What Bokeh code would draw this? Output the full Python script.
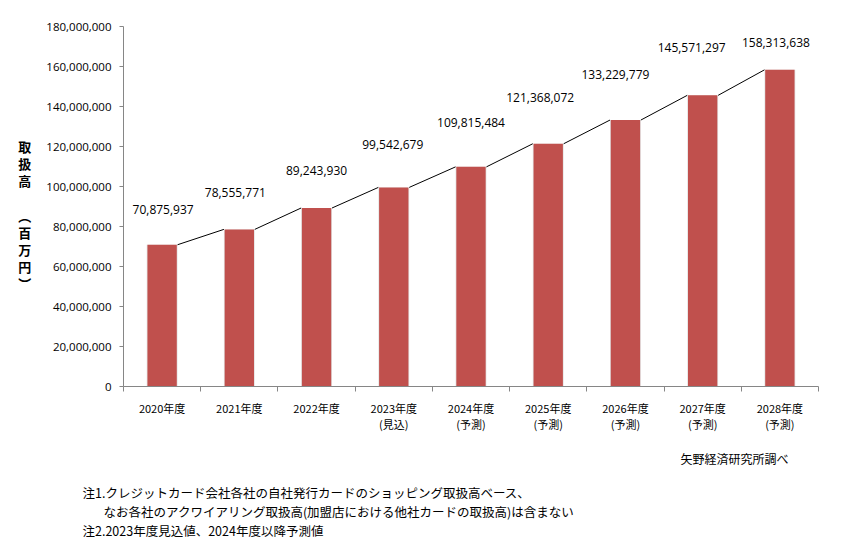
from bokeh.plotting import figure
from bokeh.models import (ColumnDataSource, FixedTicker, NumeralTickFormatter,
                          LabelSet, Range1d, Title)
from bokeh.core.properties import value
from bokeh.embed import file_html
from bokeh.resources import INLINE

# ---- data ----
years = ["2020年度", "2021年度", "2022年度", "2023年度", "2024年度",
         "2025年度", "2026年度", "2027年度", "2028年度"]
sub_labels = ["", "", "", "(見込)", "(予測)", "(予測)", "(予測)", "(予測)", "(予測)"]
values = [70875937, 78555771, 89243930, 99542679, 109815484,
          121368072, 133229779, 145571297, 158313638]
y_ticks = [0, 20000000, 40000000, 60000000, 80000000, 100000000,
           120000000, 140000000, 160000000, 180000000]
y_title = "\n取\n扱\n高\n\n︵\n百\n万\n円\n︶"
source_note = "矢野経済研究所調べ"
notes = ["注1.クレジットカード会社各社の自社発行カードのショッピング取扱高ベース、",
         "なお各社のアクワイアリング取扱高(加盟店における他社カードの取扱高)は含まない",
         "注2.2023年度見込値、2024年度以降予測値"]

# ---- style ----
W, H = 834, 540
BAR_W = 0.40
label_dx = [1, -4, 0, -1, 0, -8, -10, -11, -4]
label_dy = [35, 37, 38, 43, 44, 46, 46, 48, 27]
NUM_FONT = "Open Sans"
JP_FONT = "Noto Sans CJK JP"
AXIS_COL = "#868686"

xs = [i + 0.5 for i in range(len(years))]
src = ColumnDataSource(dict(
    x=xs, top=values, lab=[f"{v:,}" for v in values],
    dx=label_dx, dy=label_dy,
))
seg = ColumnDataSource(dict(
    x0=[x + BAR_W / 2 for x in xs[:-1]], y0=values[:-1],
    x1=[x - BAR_W / 2 for x in xs[1:]], y1=values[1:],
))

p = figure(width=W, height=H, output_backend="svg", toolbar_location=None,
           x_range=Range1d(0, len(years)), y_range=Range1d(0, 180000000),
           min_border_left=123, min_border_right=W - 818, min_border_top=26,
           min_border_bottom=H - 387)
p.outline_line_color = None
p.xgrid.visible = False
p.ygrid.visible = False
p.background_fill_color = "white"
p.border_fill_color = "white"

# shadow + bars
p.vbar(x="x", top="top", width=BAR_W, source=src, fill_color="#e3e3e3",
       line_color=None, bottom=0)
p.vbar(x="x", top="top", width=BAR_W - 0.02, source=src, fill_color="#C0504D",
       line_color=None)
p.segment(x0="x0", y0="y0", x1="x1", y1="y1", source=seg,
          line_color="black", line_width=1)

labels = LabelSet(x="x", y="top", text="lab", source=src, x_offset="dx",
                  y_offset="dy", text_align="center", text_baseline="middle",
                  text_font=value(NUM_FONT), text_font_size=value("12px"),
                  text_color="black")
p.add_layout(labels)

# x axis
xa = p.xaxis[0]
xa.ticker = FixedTicker(ticks=xs, minor_ticks=list(range(len(years) + 1)))
xa.major_label_overrides = {x: (y + ("\n" + s if s else "")) for x, y, s in zip(xs, years, sub_labels)}
xa.major_tick_in = 0
xa.major_tick_out = 0
xa.minor_tick_in = 0
xa.minor_tick_out = 5
xa.minor_tick_line_color = AXIS_COL
xa.axis_line_color = AXIS_COL
xa.major_label_text_font = JP_FONT
xa.major_label_text_font_size = "11px"
xa.major_label_text_line_height = 1.0
xa.major_label_text_color = "black"
xa.major_label_standoff = 8

# y axis
ya = p.yaxis[0]
ya.ticker = FixedTicker(ticks=y_ticks)
ya.formatter = NumeralTickFormatter(format="0,0")
ya.major_tick_in = 0
ya.major_tick_out = 4
ya.minor_tick_line_color = None
ya.major_tick_line_color = AXIS_COL
ya.axis_line_color = AXIS_COL
ya.major_label_text_font = NUM_FONT
ya.major_label_text_font_size = "11.5px"
ya.major_label_text_color = "black"
ya.major_label_standoff = 8
ya.axis_label = y_title
ya.axis_label_orientation = "horizontal"
ya.axis_label_text_font = JP_FONT
ya.axis_label_text_font_size = "13px"
ya.axis_label_text_font_style = "bold"
ya.axis_label_text_line_height = 0.9
ya.axis_label_standoff = 12
ya.axis_label_text_color = "black"

# ---- source and notes below the x axis ----
p.add_layout(Title(text=source_note, align="right", offset=30, standoff=26,
                   text_font=JP_FONT, text_font_size="12px",
                   text_font_style="normal", text_color="black"), "below")
note_offsets = [-41, -20, -41]
note_standoffs = [2, -6, 2]
for t, off, so in zip(notes, note_offsets, note_standoffs):
    p.add_layout(Title(text=t, align="left", offset=off, standoff=so,
                       text_font=JP_FONT, text_font_size="12.5px",
                       text_font_style="normal", text_color="black"), "below")

open("out.html", "w").write(file_html(p, INLINE))
